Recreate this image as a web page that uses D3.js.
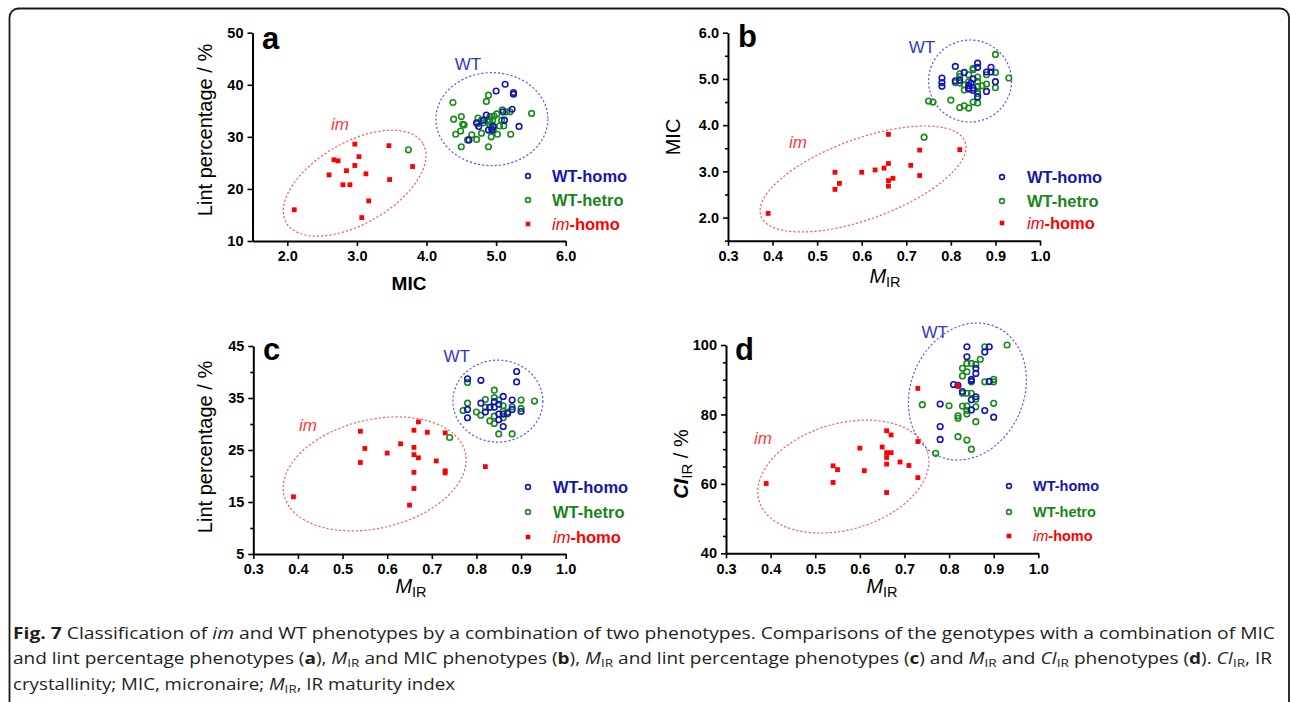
<!DOCTYPE html>
<html><head><meta charset="utf-8">
<script src="https://cdn.jsdelivr.net/npm/d3@7"></script>
<style>
body{margin:0;background:#fff}
svg{display:block}
.axis .domain{stroke:#000;stroke-width:2}
.axis .tick line{stroke:#000;stroke-width:1.6}
.axis .tick text{font-family:"Liberation Sans",Arial,sans-serif;font-weight:bold;font-size:14.5px;fill:#000}
</style>
</head><body>
<svg id="c" width="1290" height="702"></svg>
<script>
// ---------------- DATA ----------------
const seriesNames = ["WT-homo", "WT-hetro", "im-homo"];

// Panel a: MIC (x) vs lint percentage (y)
const aWtHomo = [[5.13,40.1],[5.00,38.8],[5.25,38.5],[5.25,38.2],[5.23,35.3],[5.33,32.0],[5.12,33.2],[4.86,34.2],[4.72,32.7],[4.75,32.0],[4.61,29.4],[4.89,31.3],[4.94,31.3],[4.82,33.2],[4.96,32.0],[5.10,34.8]];
const aWtHetro = [[4.38,36.6],[4.39,33.4],[4.50,33.9],[4.52,32.4],[4.54,32.3],[4.42,30.5],[4.49,31.1],[4.50,28.1],[4.59,29.4],[4.65,30.4],[4.72,29.5],[4.73,32.5],[4.79,30.7],[4.74,33.6],[4.86,36.8],[4.89,38.0],[4.89,28.1],[4.91,33.9],[4.91,32.3],[4.94,31.6],[4.93,30.0],[4.97,34.0],[5.01,34.4],[5.02,30.5],[5.05,32.1],[5.08,33.2],[5.09,35.2],[5.11,32.1],[5.15,34.8],[5.20,34.8],[5.21,30.5],[5.51,34.5],[4.82,32.7],[4.89,32.9],[4.95,33.2],[4.96,31.3],[4.94,31.8],[4.91,33.2],[4.79,33.2],[3.74,27.5]];
const aImHomo = [[2.10,16.0],[2.60,22.7],[2.67,25.6],[2.73,25.4],[2.80,20.8],[2.85,23.5],[2.90,20.8],[2.97,28.6],[2.97,24.5],[3.03,26.2],[3.07,14.5],[3.13,22.9],[3.17,17.7],[3.46,28.3],[3.47,21.8],[3.80,24.3]];

// Panel b: M_IR (x) vs MIC (y)
const bWtHomo = [[0.78,5.02],[0.78,4.92],[0.78,4.84],[0.81,5.27],[0.81,4.96],[0.82,4.97],[0.83,5.14],[0.84,4.86],[0.84,4.78],[0.845,4.91],[0.85,5.00],[0.85,4.75],[0.86,5.34],[0.86,5.25],[0.86,4.61],[0.88,4.73],[0.88,5.15],[0.89,5.25],[0.89,5.15],[0.90,4.94],[0.85,4.80],[0.84,4.80]];
const bWtHetro = [[0.75,4.52],[0.76,4.50],[0.80,4.54],[0.82,4.38],[0.83,4.42],[0.84,4.37],[0.85,4.50],[0.86,4.48],[0.86,4.68],[0.81,4.92],[0.82,5.05],[0.82,5.11],[0.83,4.76],[0.83,4.87],[0.84,5.09],[0.85,5.20],[0.85,5.23],[0.86,5.04],[0.86,4.94],[0.86,4.84],[0.86,4.73],[0.87,4.85],[0.88,4.89],[0.88,5.09],[0.90,5.53],[0.90,5.14],[0.90,4.81],[0.93,5.02],[0.84,4.94],[0.82,4.91],[0.74,3.74]];
const bImHomo = [[0.39,2.09],[0.54,2.98],[0.54,2.61],[0.55,2.74],[0.60,2.98],[0.63,3.03],[0.65,3.07],[0.66,3.17],[0.66,2.80],[0.66,2.68],[0.66,3.80],[0.67,2.85],[0.71,3.13],[0.73,3.46],[0.73,2.91],[0.82,3.47]];

// Panel c: M_IR (x) vs lint percentage (y)
const cWtHomo = [[0.78,38.7],[0.78,32.8],[0.78,31.2],[0.81,38.4],[0.81,34.0],[0.82,32.3],[0.83,33.2],[0.84,34.3],[0.84,33.2],[0.85,33.8],[0.85,31.9],[0.85,30.8],[0.86,35.3],[0.86,31.9],[0.86,29.5],[0.88,34.6],[0.88,32.8],[0.89,40.1],[0.89,38.1],[0.90,32.4],[0.87,32.0]];
const cWtHetro = [[0.78,38.0],[0.78,34.0],[0.77,32.6],[0.80,32.3],[0.81,31.7],[0.82,34.7],[0.83,30.6],[0.84,36.5],[0.84,35.1],[0.84,31.5],[0.84,30.1],[0.85,28.1],[0.85,34.6],[0.86,33.5],[0.86,32.5],[0.86,31.2],[0.87,32.3],[0.88,33.3],[0.88,28.1],[0.90,34.6],[0.90,33.0],[0.93,34.4],[0.83,33.2],[0.82,33.2],[0.74,27.4]];
const cImHomo = [[0.39,16.0],[0.54,28.6],[0.54,22.6],[0.55,25.3],[0.60,24.4],[0.63,26.2],[0.66,28.8],[0.66,25.5],[0.66,24.1],[0.66,20.7],[0.66,17.6],[0.65,14.4],[0.67,30.4],[0.67,23.5],[0.69,28.4],[0.71,22.9],[0.73,28.3],[0.73,21.0],[0.73,20.6],[0.82,21.8]];

// Panel d: M_IR (x) vs CI_IR (y)
const dWtHomo = [[0.84,99.5],[0.89,99.5],[0.88,98.0],[0.84,96.6],[0.86,93.3],[0.86,91.8],[0.81,88.6],[0.82,88.4],[0.85,90.1],[0.85,89.7],[0.89,89.5],[0.83,86.6],[0.86,85.1],[0.85,84.2],[0.78,83.0],[0.78,76.5],[0.78,72.8],[0.85,81.3],[0.88,81.1],[0.90,79.2]];
const dWtHetro = [[0.88,99.5],[0.93,100.0],[0.87,95.9],[0.85,94.7],[0.84,94.7],[0.86,94.4],[0.83,93.3],[0.84,92.3],[0.83,91.1],[0.88,89.4],[0.90,90.1],[0.90,89.4],[0.85,89.4],[0.83,86.1],[0.84,86.1],[0.85,86.1],[0.86,84.4],[0.74,82.8],[0.80,82.5],[0.83,82.4],[0.84,82.4],[0.86,82.2],[0.84,81.1],[0.90,83.2],[0.82,79.6],[0.82,78.9],[0.84,80.1],[0.86,77.9],[0.82,73.6],[0.84,72.6],[0.85,70.0],[0.77,68.8]];
const dImHomo = [[0.39,60.1],[0.54,65.2],[0.54,60.4],[0.55,64.1],[0.60,70.3],[0.61,63.8],[0.65,70.6],[0.66,75.3],[0.66,69.0],[0.66,67.6],[0.66,65.7],[0.66,57.5],[0.67,74.1],[0.67,69.0],[0.69,66.3],[0.71,65.3],[0.73,87.5],[0.73,72.2],[0.73,61.8],[0.82,88.3]];

// Axis ticks
const micTicksA = [2, 3, 4, 5, 6];
const lintTicksA = [10, 20, 30, 40, 50];
const mirTicks = [0.3, 0.4, 0.5, 0.6, 0.7, 0.8, 0.9, 1.0];
const micTicksB = [2, 3, 4, 5, 6];
const micMinorB = [1.5, 2.5, 3.5, 4.5, 5.5];
const lintTicksC = [5, 15, 25, 35, 45];
const lintMinorC = [10, 20, 30, 40];
const ciTicksD = [40, 60, 80, 100];
const ciMinorD = [45, 50, 55, 65, 70, 75, 85, 90, 95];

// --------------- DRAW ----------------
const svg = d3.select("#c");
const FONT = '"Liberation Sans",Arial,sans-serif';
const BLUE = "#1414b8", GREEN = "#1a8a1a", RED = "#ff0000";

// outer frame
svg.append("rect").attr("x", 9.5).attr("y", 8.5).attr("width", 1279.5).attr("height", 760)
  .attr("rx", 9).attr("fill", "none").attr("stroke", "#1a1a1a").attr("stroke-width", 1.8);

function addMIR(g, cx, baseY) {
  const t = g.append("text").attr("x", cx).attr("y", baseY).attr("text-anchor", "middle")
    .attr("font-family", FONT).attr("fill", "#000");
  t.append("tspan").attr("font-style", "italic").attr("font-size", "20px").text("M");
  t.append("tspan").attr("font-size", "14.5px").attr("dy", 4).text("IR");
}

function panel(p) {
  const g = svg.append("g");
  const x = d3.scaleLinear().domain(p.xDomain).range([p.x0, p.x1]);
  const y = d3.scaleLinear().domain(p.yDomain).range([p.y0, p.y1]);

  // ellipses
  p.ellipses.forEach(e => {
    const cx = x(e.cx), cy = y(e.cy);
    g.append("ellipse").attr("cx", cx).attr("cy", cy).attr("rx", e.a).attr("ry", e.b)
      .attr("transform", `rotate(${-e.angle},${cx},${cy})`)
      .attr("fill", "none").attr("stroke", e.color).attr("stroke-width", 1.2)
      .attr("stroke-dasharray", "2.2,2");
  });
  // group labels
  p.groupLabels.forEach(l => {
    g.append("text").attr("x", x(l.x)).attr("y", y(l.y)).attr("text-anchor", "middle")
      .attr("dominant-baseline", "central")
      .attr("font-family", FONT).attr("font-size", "17px")
      .attr("font-style", l.italic ? "italic" : "normal").attr("fill", l.color).text(l.text);
  });

  // points
  g.append("g").selectAll("circle").data(p.hetro).join("circle")
    .attr("cx", d => x(d[0])).attr("cy", d => y(d[1])).attr("r", 2.8)
    .attr("fill", "none").attr("stroke", GREEN).attr("stroke-width", 1.6);
  g.append("g").selectAll("circle").data(p.homo).join("circle")
    .attr("cx", d => x(d[0])).attr("cy", d => y(d[1])).attr("r", 2.8)
    .attr("fill", "none").attr("stroke", BLUE).attr("stroke-width", 1.6);
  g.append("g").selectAll("rect").data(p.im).join("rect")
    .attr("x", d => x(d[0]) - 2.4).attr("y", d => y(d[1]) - 2.4).attr("width", 4.8).attr("height", 4.8)
    .attr("fill", RED);

  // axes
  const xa = g.append("g").attr("class", "axis").attr("transform", `translate(0,${p.y0})`)
    .call(d3.axisBottom(x).tickValues(p.xTicks).tickFormat(p.xFmt).tickSize(5).tickPadding(5).tickSizeOuter(0));
  const ya = g.append("g").attr("class", "axis").attr("transform", `translate(${p.x0},0)`)
    .call(d3.axisLeft(y).tickValues(p.yTicks).tickFormat(p.yFmt).tickSize(5).tickPadding(4).tickSizeOuter(0));
  if (p.yMinor) {
    const ym = g.append("g").attr("class", "axis").attr("transform", `translate(${p.x0},0)`)
      .call(d3.axisLeft(y).tickValues(p.yMinor).tickFormat("").tickSize(3).tickSizeOuter(0));
    ym.select(".domain").remove();
  }

  // panel letter
  g.append("text").attr("x", p.letterX).attr("y", p.letterY).attr("font-family", FONT)
    .attr("font-weight", "bold").attr("font-size", "31px").attr("fill", "#000").text(p.letter);

  // legend
  seriesNames.forEach((name, i) => {
    const ly = p.legY[i];
    if (i < 2) {
      g.append("circle").attr("cx", p.legX).attr("cy", ly).attr("r", 2.4).attr("fill", "none")
        .attr("stroke", i === 0 ? BLUE : GREEN).attr("stroke-width", 1.6);
    } else {
      g.append("rect").attr("x", p.legX - 2.3).attr("y", ly - 2.3).attr("width", 4.6).attr("height", 4.6).attr("fill", RED);
    }
    const t = g.append("text").attr("x", p.legTextX).attr("y", ly).attr("dominant-baseline", "central")
      .attr("font-family", FONT).attr("font-weight", "bold").attr("font-size", p.legSize)
      .attr("fill", i === 0 ? "#1515b0" : i === 1 ? "#18841a" : RED);
    if (i === 2) {
      t.append("tspan").attr("font-style", "italic").attr("font-weight", "normal").text(name.split("-")[0]);
      t.append("tspan").text("-" + name.split("-")[1]);
    } else t.text(name);
  });

  p.titles(g, x, y);
}

const fmt1 = d3.format(".1f");
const fmt0 = d3.format("d");

function yTitle(g, cx, cy, txt) {
  g.append("text").attr("transform", `translate(${cx},${cy}) rotate(-90)`).attr("text-anchor", "middle")
    .attr("dominant-baseline", "central").attr("font-family", FONT).attr("font-size", "20px")
    .attr("fill", "#000").text(txt);
}

// Panel a
panel({
  xDomain: [1.5, 6], yDomain: [10, 50], x0: 252.5, x1: 565.7, y0: 241, y1: 32.7,
  xTicks: micTicksA, xFmt: fmt1, yTicks: lintTicksA, yFmt: fmt0,
  homo: aWtHomo, hetro: aWtHetro, im: aImHomo,
  ellipses: [
    {cx: 2.968, cy: 21.1, a: 79, b: 40.7, angle: 30, color: "#ff5a5a"},
    {cx: 4.94, cy: 33.4, a: 56, b: 46.5, angle: 0, color: "#5a5ae6"}
  ],
  groupLabels: [
    {x: 2.757, y: 32.3, text: "im", italic: true, color: "#ff3a3a"},
    {x: 4.596, y: 43.8, text: "WT", italic: false, color: "#3535c8"}
  ],
  letter: "a", letterX: 262, letterY: 48.5,
  legX: 528, legTextX: 552, legY: [176, 200, 224], legSize: "16.5px",
  titles: (g) => {
    yTitle(g, 205, 130, "Lint percentage / %");
    g.append("text").attr("x", 409).attr("y", 290).attr("text-anchor", "middle")
      .attr("font-family", FONT).attr("font-weight", "bold").attr("font-size", "19px").text("MIC");
  }
});

// Panel b
panel({
  xDomain: [0.3, 1.0], yDomain: [1.5, 6], x0: 728, x1: 1040, y0: 240.7, y1: 32.7,
  xTicks: mirTicks, xFmt: fmt1, yTicks: micTicksB, yFmt: fmt1, yMinor: micMinorB,
  homo: bWtHomo, hetro: bWtHetro, im: bImHomo,
  ellipses: [
    {cx: 0.603, cy: 2.835, a: 108.6, b: 40.2, angle: 20, color: "#ff5a5a"},
    {cx: 0.843, cy: 4.955, a: 41.5, b: 41, angle: 0, color: "#5a5ae6"}
  ],
  groupLabels: [
    {x: 0.457, y: 3.635, text: "im", italic: true, color: "#ff3a3a"},
    {x: 0.735, y: 5.67, text: "WT", italic: false, color: "#3535c8"}
  ],
  letter: "b", letterX: 738, letterY: 47,
  legX: 1002, legTextX: 1027, legY: [177, 201, 223], legSize: "16.5px",
  titles: (g) => {
    yTitle(g, 673, 137, "MIC");
    addMIR(g, 885, 283);
  }
});

// Panel c
panel({
  xDomain: [0.3, 1.0], yDomain: [5, 45], x0: 253.3, x1: 565.7, y0: 554, y1: 346,
  xTicks: mirTicks, xFmt: fmt1, yTicks: lintTicksC, yFmt: fmt0, yMinor: lintMinorC,
  homo: cWtHomo, hetro: cWtHetro, im: cImHomo,
  ellipses: [
    {cx: 0.572, cy: 20.4, a: 93.1, b: 54.3, angle: 13.3, color: "#ff5a5a"},
    {cx: 0.848, cy: 34.4, a: 45, b: 41, angle: 0, color: "#5a5ae6"}
  ],
  groupLabels: [
    {x: 0.4226, y: 29.8, text: "im", italic: true, color: "#ff3a3a"},
    {x: 0.756, y: 42.9, text: "WT", italic: false, color: "#3535c8"}
  ],
  letter: "c", letterX: 263, letterY: 360,
  legX: 528, legTextX: 553, legY: [487, 512, 537], legSize: "16.5px",
  titles: (g) => {
    yTitle(g, 205, 447, "Lint percentage / %");
    addMIR(g, 411, 593);
  }
});

// Panel d
panel({
  xDomain: [0.3, 1.0], yDomain: [40, 100], x0: 726, x1: 1038.3, y0: 553.3, y1: 345,
  xTicks: mirTicks, xFmt: fmt1, yTicks: ciTicksD, yFmt: fmt0, yMinor: ciMinorD,
  homo: dWtHomo, hetro: dWtHetro, im: dImHomo,
  ellipses: [
    {cx: 0.563, cy: 62.1, a: 87.7, b: 53.1, angle: 16, color: "#ff5a5a"},
    {cx: 0.841, cy: 86.6, a: 70.7, b: 56.4, angle: 66, color: "#5a5ae6"}
  ],
  groupLabels: [
    {x: 0.383, y: 73.2, text: "im", italic: true, color: "#ff3a3a"},
    {x: 0.768, y: 103.5, text: "WT", italic: false, color: "#3535c8"}
  ],
  letter: "d", letterX: 735, letterY: 360,
  legX: 1009, legTextX: 1033, legY: [486, 512, 536], legSize: "14.5px",
  titles: (g) => {
    const t = g.append("text").attr("transform", "translate(688,464) rotate(-90)").attr("text-anchor", "middle")
      .attr("font-family", FONT).attr("fill", "#000");
    t.append("tspan").attr("font-style", "italic").attr("font-weight", "bold").attr("font-size", "20px").text("CI");
    t.append("tspan").attr("font-size", "15px").attr("dy", 4).text("IR");
    t.append("tspan").attr("font-size", "20px").attr("dy", -4).text(" / %");
    addMIR(g, 882, 593);
  }
});

// Caption
const capLines = [
  {y: 639, len: 1262, segs: [["Fig. 7", "b"], [" Classification of ", ""], ["im", "i"], [" and WT phenotypes by a combination of two phenotypes. Comparisons of the genotypes with a combination of MIC", ""]]},
  {y: 664, len: 1259, segs: [["and lint percentage phenotypes (", ""], ["a", "b"], ["), ", ""], ["M", "i"], ["IR", "s"], [" and MIC phenotypes (", ""], ["b", "b"], ["), ", ""], ["M", "i"], ["IR", "s"], [" and lint percentage phenotypes (", ""], ["c", "b"], [") and ", ""], ["M", "i"], ["IR", "s"], [" and ", ""], ["CI", "i"], ["IR", "s"], [" phenotypes (", ""], ["d", "b"], ["). ", ""], ["CI", "i"], ["IR", "s"], [", IR", ""]]},
  {y: 690, len: 442, segs: [["crystallinity; MIC, micronaire; ", ""], ["M", "i"], ["IR", "s"], [", IR maturity index", ""]]}
];
capLines.forEach(line => {
  const t = svg.append("text").attr("x", 13).attr("y", line.y).attr("font-family", '"Open Sans","Liberation Sans",sans-serif')
    .attr("font-size", "16px").attr("fill", "#231f20")
    .attr("textLength", line.len).attr("lengthAdjust", "spacingAndGlyphs");
  let shifted = false;
  line.segs.forEach(([s, st]) => {
    const ts = t.append("tspan").text(s);
    if (st === "b") ts.attr("font-weight", "bold");
    if (st === "i") ts.attr("font-style", "italic");
    if (st === "s") { ts.attr("font-size", "11.5px").attr("dy", 3); shifted = true; }
    else if (shifted) { ts.attr("dy", -3); shifted = false; }
  });
});
</script>
</body></html>
